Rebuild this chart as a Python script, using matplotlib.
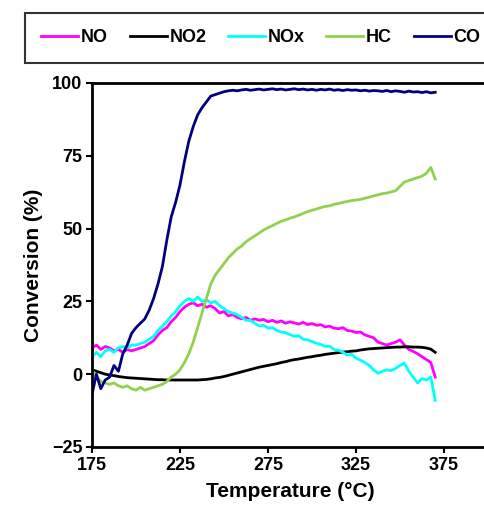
import matplotlib
matplotlib.use("Agg")
import matplotlib.pyplot as plt

plt.rcParams['font.family'] = ['Liberation Sans', 'DejaVu Sans']
plt.rcParams['font.weight'] = 'bold'

# temperature grid (°C), read every 2.5 degrees
temp = [175 + 2.5 * i for i in range(79)]

no = [9, 10, 8.5, 9.5, 9, 8, 8.5, 7.5, 8.5, 8, 8.5, 9, 9.5, 10.5, 11.5, 13.5, 15, 16, 18, 19.5,
      21.5, 23, 24, 24.5, 23.5, 24, 23, 23.5, 22.5, 21, 21.5, 20, 20.5, 19.5, 19, 19.5, 18.5, 19, 18.5, 18.8,
      18, 18.5, 17.8, 18.3, 17.5, 18, 17.6, 17.2, 17.8, 17, 17.4, 16.8, 17, 16.2, 16.5, 15.8, 15.6, 16, 15, 14.8,
      14.3, 14.5, 13.5, 13, 12.5, 11, 10.5, 10, 10.5, 11, 11.8, 10, 8.5, 7.8, 7, 6, 5, 4, -1]

no2 = [1.5, 1, 0.5, 0, -0.3, -0.5, -0.8, -1, -1.2, -1.3, -1.4, -1.5, -1.6, -1.7, -1.8, -1.9, -1.9, -2, -2, -2,
       -2, -2, -2, -2, -2, -1.9, -1.8, -1.6, -1.3, -1.1, -0.8, -0.4, 0, 0.4, 0.8, 1.2, 1.6, 2, 2.4, 2.7,
       3, 3.3, 3.6, 4, 4.3, 4.7, 5, 5.2, 5.5, 5.8, 6, 6.3, 6.5, 6.8, 7, 7.2, 7.4, 7.6, 7.7, 7.9,
       8, 8.3, 8.5, 8.7, 8.8, 8.9, 9, 9.1, 9.2, 9.3, 9.3, 9.4, 9.4, 9.3, 9.3, 9.2, 9, 8.6, 7.5]

nox = [6, 7.5, 6, 8, 8.5, 7.5, 9, 9.5, 9, 10, 10, 10.5, 11, 12, 13, 15, 16.5, 18, 20, 21.5,
       23.5, 25, 26, 25, 26.5, 25, 25.5, 24.5, 25, 23.5, 22.5, 21.5, 21, 20.5, 19.5, 18.5, 18.5, 17.5, 16.5, 16.8,
       15.8, 16, 15, 14.5, 14.2, 13.6, 13, 13.2, 12, 11.8, 11.2, 10.6, 10.2, 9.5, 9.6, 8.5, 8.2, 7.6, 6.5, 6.8,
       5.5, 4.8, 4, 3, 1.5, 0.3, 1, 1.5, 1.2, 2, 3, 3.8, 1, -1, -3, -1.5, -2, -1, -9]

hc = [1.5, -1, -2.5, -3, -3.5, -3, -4, -4.5, -4, -5, -5.5, -4.5, -5.5, -5, -4.5, -4, -3.5, -2.5, -1, 0,
      1.5, 4, 7, 11, 16, 21, 26, 31, 34, 36, 38, 40, 41.5, 43, 44, 45.5, 46.5, 47.5, 48.5, 49.5,
      50.3, 51, 51.8, 52.5, 53, 53.6, 54, 54.6, 55.2, 55.8, 56.3, 56.7, 57.2, 57.6, 57.8, 58.3, 58.6, 59, 59.3, 59.6,
      59.8, 60, 60.4, 60.8, 61.2, 61.6, 62, 62.2, 62.6, 63, 64.5, 66, 66.5, 67, 67.5, 68, 69, 71, 67]

co = [-7, 0, -5, -2, -1, 3, 1, 7, 10, 14, 16, 17.5, 19, 22, 26, 31, 37, 46, 54, 59,
      65, 73, 80, 85, 89, 91.5, 93.5, 95.5, 96, 96.5, 97, 97.3, 97.5, 97.3, 97.6, 97.8, 97.5, 97.7, 97.9, 97.6,
      97.8, 98, 97.7, 97.9, 97.6, 97.8, 98, 97.7, 97.9, 97.6, 97.8, 97.5, 97.8, 97.6, 97.9, 97.5, 97.7, 97.4, 97.7, 97.5,
      97.6, 97.3, 97.5, 97.2, 97.4, 97.3, 97.1, 97.4, 97, 97.3, 97.1, 96.8, 97.2, 96.9, 97, 96.7, 97, 96.6, 96.8]

series = [("NO", no, "#FF00FF"), ("NO2", no2, "#000000"), ("NOx", nox, "#00FFFF"),
          ("HC", hc, "#92D050"), ("CO", co, "#000080")]

fig = plt.figure(figsize=(4.85, 5.14), dpi=100)
ax = fig.add_axes([0.1897, 0.1304, 0.8165, 0.7082])

for name, vals, col in series:
    ax.plot(temp, vals, color=col, lw=2.0, label=name)

ax.set_xlim(175, 400)
ax.set_ylim(-25, 100)
ax.set_xticks([175, 225, 275, 325, 375])
ax.set_yticks([-25, 0, 25, 50, 75, 100])
ax.tick_params(direction='out', length=4, width=1.5, labelsize=13, pad=3)
for s in ax.spines.values():
    s.set_linewidth(2)
ax.set_xlabel("Temperature (°C)", fontsize=15, fontweight='bold', labelpad=6)
ax.set_ylabel("Conversion (%)", fontsize=15, fontweight='bold', labelpad=6)

leg = fig.legend(loc='upper left', bbox_to_anchor=(0.0515, 0.9747), ncol=5,
                 fontsize=13, handlelength=2.05, handletextpad=0.15, columnspacing=1.2,
                 borderpad=0.9, borderaxespad=0, fancybox=False, frameon=True)
leg.get_frame().set_edgecolor('black')
leg.get_frame().set_linewidth(1.5)
for t in leg.get_texts():
    t.set_fontweight('bold')

fig.savefig("out.png", dpi=100)
